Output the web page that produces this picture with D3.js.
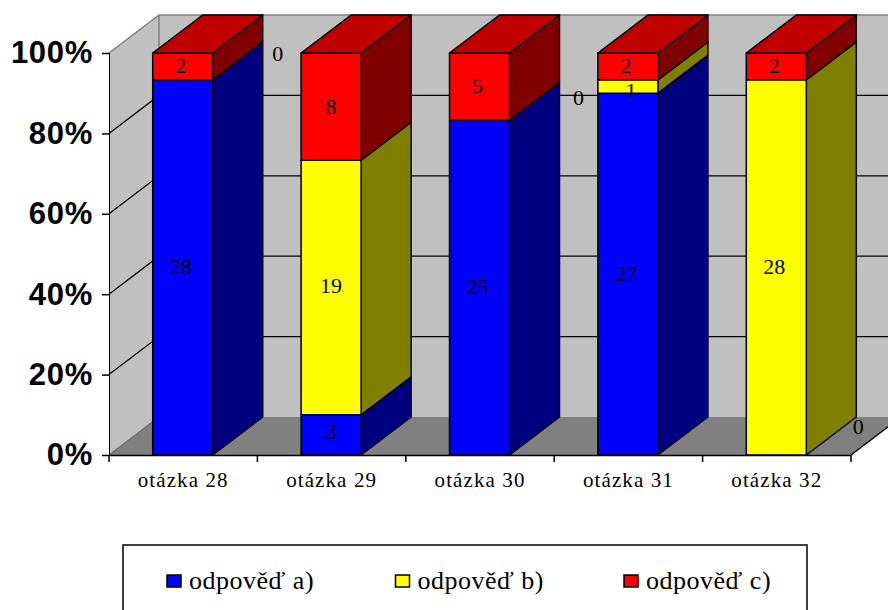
<!DOCTYPE html>
<html>
<head>
<meta charset="utf-8">
<script src="https://cdn.jsdelivr.net/npm/d3@7"></script>
<style>
  html, body { margin: 0; padding: 0; background: #fff; overflow: hidden; }
  svg { display: block; }
  .serif { font-family: "Liberation Serif", serif; fill: #000; }
</style>
</head>
<body>
<svg id="chart" width="888" height="610"></svg>
<script>
// values
const categories = ["otázka 28", "otázka 29", "otázka 30", "otázka 31", "otázka 32"];
const seriesNames = ["odpověď a)", "odpověď b)", "odpověď c)"];
const answerA = [28, 3, 25, 27, 0];
const answerB = [0, 19, 0, 1, 28];
const answerC = [2, 8, 5, 2, 2];
const yTicks = [0, 0.2, 0.4, 0.6, 0.8, 1];

const frontColors = ["#0000ff", "#ffff00", "#ff0000"];
const sideColors = ["#000080", "#808000", "#800000"];
const topColor = "#c00000";

const W = 888, H = 610;
const plotLeft = 109, plotRight = 851, plotBottom = 455, plotTop = 53;
const depthX = 50, depthY = -38; // the oblique 3d shift
const barWidth = 60;

const svg = d3.select("#chart");

const x = d3.scaleBand().domain(categories).range([plotLeft, plotRight]);
const y = d3.scaleLinear().domain([0, 1]).range([plotBottom, plotTop]);

const rows = categories.map((c, i) => ({cat: c, a: answerA[i], b: answerB[i], c: answerC[i]}));
const stacked = d3.stack().keys(["a", "b", "c"]).offset(d3.stackOffsetExpand)(rows);

const poly = pts => pts.map(p => p.join(",")).join(" ");

// left wall, back wall, floor
svg.append("polygon")
  .attr("points", poly([[plotLeft, plotBottom], [plotLeft, plotTop], [plotLeft + depthX, plotTop + depthY], [plotLeft + depthX, plotBottom + depthY]]))
  .attr("fill", "#c0c0c0");
svg.append("rect")
  .attr("x", plotLeft + depthX).attr("y", plotTop + depthY)
  .attr("width", W - plotLeft - depthX + 20).attr("height", plotBottom - plotTop)
  .attr("fill", "#c0c0c0");
svg.append("polygon")
  .attr("points", poly([[plotLeft, plotBottom], [plotRight, plotBottom], [plotRight + depthX, plotBottom + depthY], [plotLeft + depthX, plotBottom + depthY]]))
  .attr("fill", "#808080");

// wall grid
const inner = yTicks.slice(1, -1);
svg.append("g").selectAll("polyline").data(inner).join("polyline")
  .attr("points", d => poly([[plotLeft, y(d)], [plotLeft + depthX, y(d) + depthY], [W + 10, y(d) + depthY]]))
  .attr("fill", "none").attr("stroke", "#000").attr("stroke-width", 1.3);

// wall edges
svg.append("polyline")
  .attr("points", poly([[plotLeft, plotTop], [plotLeft + depthX, plotTop + depthY], [W + 10, plotTop + depthY]]))
  .attr("fill", "none").attr("stroke", "#808080").attr("stroke-width", 1.5);
svg.append("line")
  .attr("x1", plotLeft + depthX).attr("x2", plotLeft + depthX)
  .attr("y1", plotTop + depthY).attr("y2", plotBottom + depthY)
  .attr("stroke", "#808080").attr("stroke-width", 1.5);
svg.append("line")
  .attr("x1", plotLeft).attr("y1", plotBottom)
  .attr("x2", plotLeft + depthX).attr("y2", plotBottom + depthY)
  .attr("stroke", "#6a6a6a").attr("stroke-width", 1.2);

// bars, one column at a time, bottom segment first
const barX = c => x(c) + (x.bandwidth() - barWidth) / 2 - 0.5;
const bars = svg.append("g").attr("stroke", "#000").attr("stroke-width", 1.5).attr("stroke-linejoin", "round");

categories.forEach((cat, i) => {
  const x0 = barX(cat), x1 = x0 + barWidth;
  stacked.forEach((layer, s) => {
    const [v0, v1] = layer[i];
    if (v1 === v0) return;
    const y0 = y(v0), y1 = y(v1);
    bars.append("polygon")
      .attr("points", poly([[x1, y0], [x1, y1], [x1 + depthX, y1 + depthY], [x1 + depthX, y0 + depthY]]))
      .attr("fill", sideColors[s]);
    bars.append("rect")
      .attr("x", x0).attr("y", y1).attr("width", barWidth).attr("height", y0 - y1)
      .attr("fill", frontColors[s]);
  });
  bars.append("polygon")
    .attr("points", poly([[x0, plotTop], [x1, plotTop], [x1 + depthX, plotTop + depthY], [x0 + depthX, plotTop + depthY]]))
    .attr("fill", topColor);
});

// axes
const yAxis = svg.append("g")
  .attr("transform", `translate(${plotLeft},0)`)
  .call(d3.axisLeft(y).tickValues(yTicks).tickFormat(d3.format(".0%")).tickSize(7).tickPadding(9));
yAxis.select(".domain").attr("stroke", "#000").attr("stroke-width", 1);
yAxis.selectAll(".tick line").attr("stroke", "#000").attr("stroke-width", 1.5);
yAxis.selectAll("text")
  .attr("font-family", "'Liberation Sans', Arial, sans-serif")
  .attr("font-weight", "bold").attr("font-size", 31).attr("letter-spacing", 0.7).attr("fill", "#000");

const xAxis = svg.append("g")
  .attr("transform", `translate(0,${plotBottom})`)
  .call(d3.axisBottom(x).tickSize(0).tickPadding(17));
xAxis.select(".domain").attr("stroke", "#000").attr("stroke-width", 1.5);
xAxis.selectAll("text")
  .attr("class", "serif").attr("font-size", 21).attr("letter-spacing", 1.1).attr("fill", "#000");
// ticks sit between the categories
svg.append("g").selectAll("line").data(categories.concat([null])).join("line")
  .attr("x1", (d, i) => plotLeft + i * x.bandwidth())
  .attr("x2", (d, i) => plotLeft + i * x.bandwidth())
  .attr("y1", plotBottom).attr("y2", plotBottom + 7)
  .attr("stroke", "#000").attr("stroke-width", 1.5);
svg.append("line")
  .attr("x1", plotRight).attr("y1", plotBottom)
  .attr("x2", plotRight + depthX).attr("y2", plotBottom + depthY)
  .attr("stroke", "#000").attr("stroke-width", 1.5);

// value labels
const labelShift = {
  "0-1": [95, -27], "1-0": [0, -4], "1-1": [0, -2], "1-2": [0, 0], "2-1": [99, -23],
  "3-1": [3, 4], "4-0": [82, -29]
};
const labels = [];
stacked.forEach((layer, s) => {
  categories.forEach((cat, i) => {
    const [v0, v1] = layer[i];
    const value = rows[i][layer.key];
    const shift = labelShift[i + "-" + s] || [-2, -1];
    labels.push({
      value,
      px: barX(cat) + barWidth / 2 + shift[0],
      py: y((v0 + v1) / 2) + shift[1]
    });
  });
});
svg.append("g").selectAll("text").data(labels).join("text")
  .attr("class", "serif").attr("font-size", 22).attr("text-anchor", "middle").attr("dy", "0.35em")
  .attr("x", d => d.px).attr("y", d => d.py)
  .text(d => d.value);

// legend
svg.append("rect")
  .attr("x", 123).attr("y", 545).attr("width", 684).attr("height", 80)
  .attr("fill", "#fff").attr("stroke", "#000").attr("stroke-width", 1.5);
const legendX = d3.scalePoint().domain(seriesNames).range([167, 624]);
const legend = svg.append("g").selectAll("g").data(seriesNames).join("g")
  .attr("transform", d => `translate(${legendX(d)},0)`);
legend.append("rect")
  .attr("x", 0).attr("y", 575).attr("width", 14).attr("height", 12)
  .attr("fill", (d, i) => frontColors[i]).attr("stroke", "#000").attr("stroke-width", 1.5);
legend.append("text")
  .attr("class", "serif").attr("x", 22).attr("y", 589).attr("font-size", 26).attr("letter-spacing", 0.5)
  .text(d => d);
</script>
</body>
</html>
